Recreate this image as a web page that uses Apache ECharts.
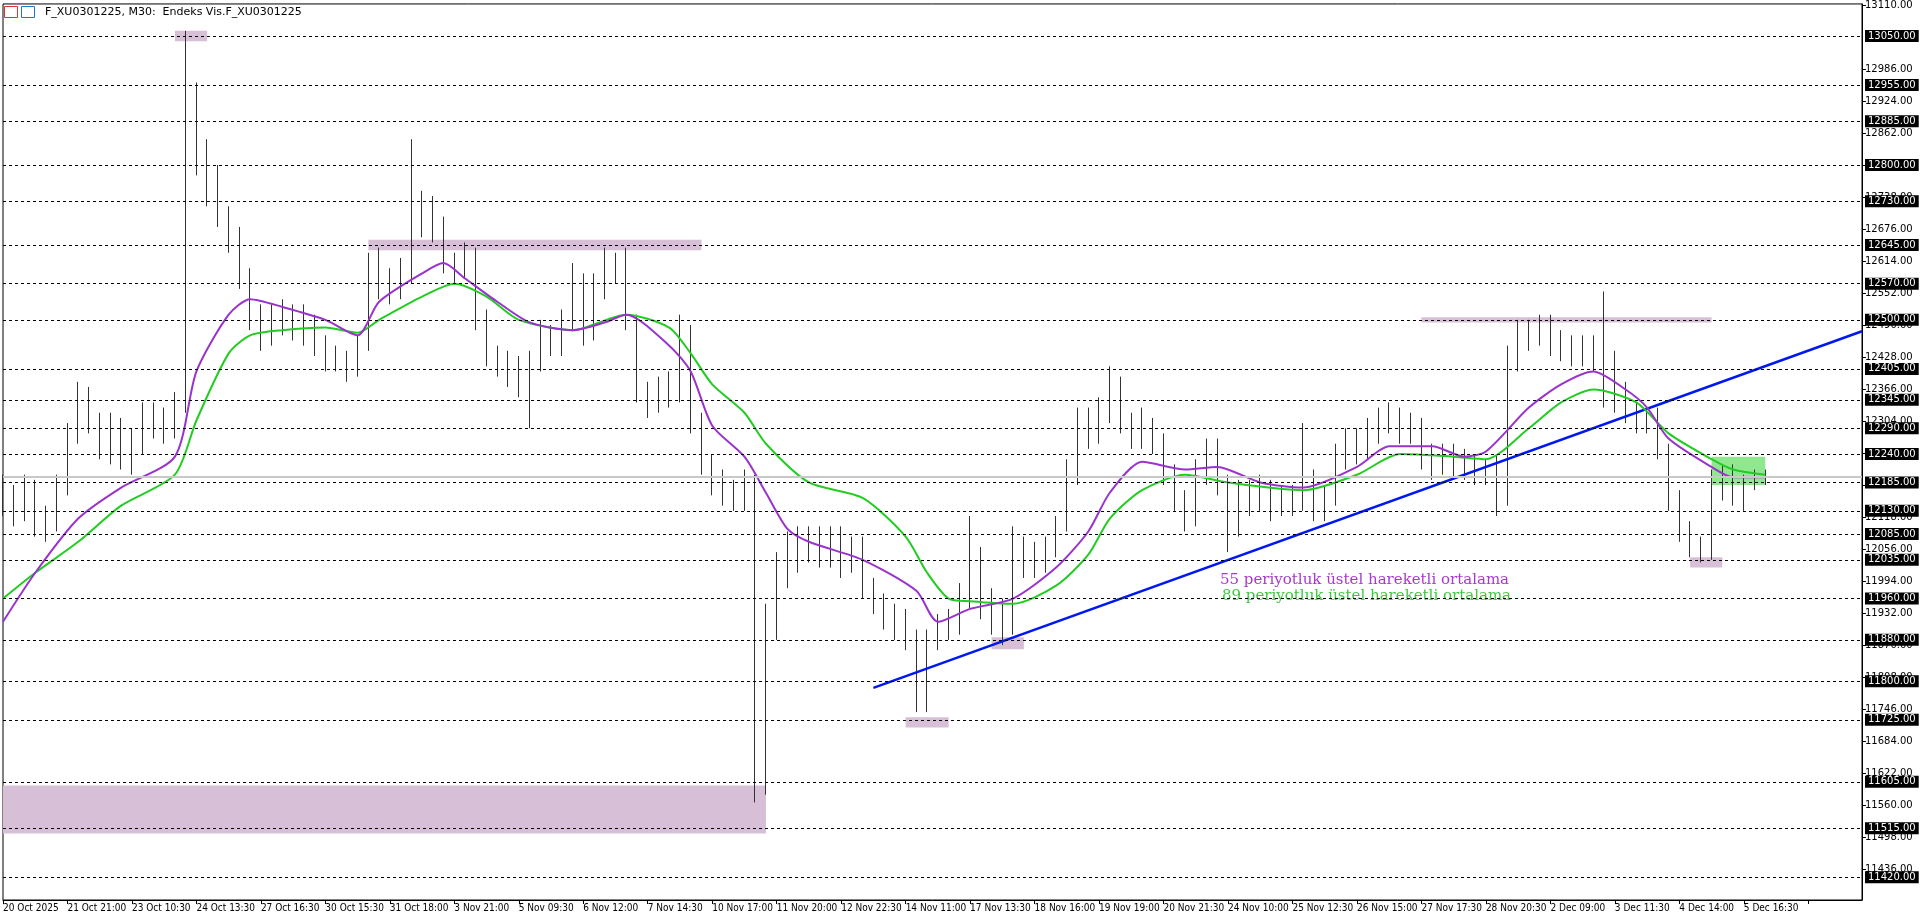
<!DOCTYPE html>
<html><head><meta charset="utf-8">
<script src="https://cdn.jsdelivr.net/npm/echarts@6/dist/echarts.min.js"></script>
<style>html,body{margin:0;padding:0;background:#fff}#c{width:1920px;height:923px}</style>
</head><body><div id="c"></div>
<script>
const timeLabels=['20 Oct 2025','21 Oct 21:00','23 Oct 10:30','24 Oct 13:30','27 Oct 16:30','30 Oct 15:30','31 Oct 18:00','3 Nov 21:00','5 Nov 09:30','6 Nov 12:00','7 Nov 14:30','10 Nov 17:00','11 Nov 20:00','12 Nov 22:30','14 Nov 11:00','17 Nov 13:30','18 Nov 16:00','19 Nov 19:00','20 Nov 21:30','24 Nov 10:00','25 Nov 12:30','26 Nov 15:00','27 Nov 17:30','28 Nov 20:30','2 Dec 09:00','3 Dec 11:30','4 Dec 14:00','5 Dec 16:30'];
// [open, close, low, high]
const bars=[
[12170,12150,12120,12200],[12150,12130,12100,12180],[12130,12170,12110,12200],[12170,12100,12080,12190],[12100,12110,12070,12140],[12110,12170,12090,12200],
[12170,12280,12160,12300],[12280,12350,12260,12380],[12350,12300,12280,12370],[12300,12250,12230,12320],[12250,12300,12220,12320],[12300,12230,12210,12310],
[12230,12250,12200,12290],[12250,12320,12240,12340],[12320,12300,12270,12340],[12300,12290,12260,12330],[12290,12330,12270,12360],[12330,12950,12320,13060],
[12950,12820,12780,12960],[12820,12780,12720,12850],[12780,12700,12680,12800],[12700,12660,12630,12720],[12660,12580,12560,12680],[12580,12500,12480,12600],
[12500,12470,12440,12530],[12470,12500,12450,12530],[12500,12510,12470,12540],[12510,12480,12460,12530],[12480,12500,12450,12530],[12500,12450,12430,12510],
[12450,12420,12400,12470],[12420,12430,12400,12450],[12430,12410,12380,12440],[12410,12450,12390,12470],[12450,12600,12440,12630],[12600,12570,12540,12640],
[12570,12550,12530,12600],[12550,12590,12540,12620],[12590,12700,12570,12850],[12700,12720,12660,12750],[12720,12680,12650,12740],[12680,12610,12590,12700],
[12610,12600,12570,12630],[12600,12620,12580,12650],[12620,12500,12480,12640],[12500,12430,12410,12520],[12430,12420,12390,12450],[12420,12400,12370,12440],
[12400,12380,12350,12430],[12380,12420,12290,12440],[12420,12470,12400,12500],[12470,12450,12430,12490],[12450,12500,12430,12520],[12500,12580,12480,12610],
[12580,12470,12450,12590],[12470,12560,12460,12590],[12560,12610,12540,12640],[12610,12600,12570,12630],[12600,12500,12480,12640],[12500,12360,12340,12510],
[12360,12340,12310,12380],[12340,12370,12320,12390],[12370,12350,12330,12400],[12350,12480,12340,12510],[12480,12300,12280,12490],[12300,12220,12200,12320],
[12220,12190,12160,12240],[12190,12170,12140,12210],[12170,12150,12130,12190],[12150,12190,12130,12210],[12190,11600,11565,12200],[11600,11900,11580,11950],
[11900,12000,11880,12050],[12000,12060,11980,12090],[12060,12040,12010,12100],[12040,12070,12030,12100],[12070,12050,12020,12100],[12050,12080,12020,12100],
[12080,12030,12000,12100],[12030,12060,12010,12080],[12060,11980,11960,12080],[11980,11950,11930,12000],[11950,11930,11900,11970],[11930,11920,11880,11950],
[11920,11880,11860,11940],[11880,11760,11740,11900],[11760,11880,11740,11900],[11880,11910,11860,11930],[11910,11900,11880,11940],[11900,11960,11890,11990],
[11960,12050,11940,12120],[12050,11950,11920,12060],[11950,11930,11890,11980],[11930,11900,11870,11960],[11900,12020,11890,12100],[12020,12050,12000,12080],
[12050,12030,12000,12070],[12030,12060,12010,12080],[12060,12100,12040,12120],[12100,12200,12090,12230],[12200,12300,12180,12330],[12300,12280,12250,12330],
[12280,12320,12260,12350],[12320,12370,12300,12410],[12370,12300,12280,12390],[12300,12280,12250,12320],[12280,12300,12250,12330],[12300,12260,12240,12310],
[12260,12200,12180,12280],[12200,12150,12130,12220],[12150,12110,12090,12170],[12110,12200,12100,12230],[12200,12250,12180,12270],[12250,12180,12160,12270],
[12180,12100,12050,12200],[12100,12160,12080,12190],[12160,12150,12120,12190],[12150,12170,12130,12200],[12170,12140,12110,12190],[12140,12160,12120,12180],
[12160,12150,12120,12180],[12150,12200,12130,12300],[12200,12140,12110,12210],[12140,12150,12110,12180],[12150,12230,12140,12260],[12230,12260,12210,12290],
[12260,12240,12220,12290],[12240,12280,12230,12310],[12280,12300,12260,12330],[12300,12310,12280,12340],[12310,12290,12260,12330],[12290,12300,12260,12320],
[12300,12230,12210,12310],[12230,12220,12190,12260],[12220,12240,12200,12260],[12240,12210,12190,12260],[12210,12230,12190,12250],[12230,12200,12180,12240],
[12200,12210,12180,12230],[12210,12150,12120,12240],[12150,12420,12140,12450],[12420,12480,12400,12500],[12480,12470,12440,12500],[12470,12490,12450,12510],
[12490,12460,12430,12510],[12460,12440,12420,12480],[12440,12450,12410,12470],[12450,12430,12410,12470],[12430,12450,12400,12470],[12450,12420,12330,12555],
[12420,12350,12320,12440],[12350,12320,12300,12380],[12320,12300,12280,12340],[12300,12310,12280,12330],[12310,12250,12230,12330],[12250,12150,12130,12260],
[12150,12090,12070,12170],[12090,12060,12040,12110],[12060,12050,12030,12080],[12050,12180,12035,12210],[12180,12200,12150,12220],[12200,12160,12140,12220],
[12160,12180,12130,12200],[12180,12200,12170,12210],[12200,12196,12180,12210]];
const ema55=[[0,11915],[3,12010],[7,12115],[11,12175],[16,12235],[18,12400],[21,12510],[23,12540],[26,12525],[30,12500],[33,12470],[35,12535],[39,12590],[41,12610],[43,12580],[46,12535],[49,12495],[53,12480],[56,12495],[58,12510],[62,12450],[64,12400],[66,12295],[69,12235],[71,12165],[73,12095],[75,12070],[80,12035],[85,11975],[87,11915],[90,11940],[94,11960],[98,12020],[101,12090],[103,12165],[106,12225],[110,12210],[113,12215],[117,12185],[121,12175],[126,12215],[129,12255],[133,12255],[136,12235],[138,12245],[142,12330],[145,12375],[148,12400],[151,12365],[153,12330],[155,12270],[159,12215],[161,12195],[164,12195]];
const ema89=[[0,11960],[3,12010],[7,12070],[11,12140],[16,12200],[18,12305],[21,12435],[23,12470],[26,12480],[30,12485],[33,12475],[35,12500],[39,12545],[42,12570],[45,12545],[48,12500],[53,12480],[58,12510],[62,12485],[64,12435],[66,12375],[69,12320],[71,12260],[75,12185],[80,12155],[84,12080],[86,12010],[88,11960],[90,11955],[94,11950],[98,11985],[101,12045],[103,12115],[106,12170],[110,12200],[114,12185],[121,12170],[126,12200],[130,12240],[135,12235],[138,12230],[142,12290],[145,12340],[148,12365],[152,12340],[155,12280],[159,12230],[161,12210],[164,12200]];
const trendLine=[[81,11787],[173,12478]];
const levels=[13050,12955,12885,12800,12730,12645,12570,12500,12405,12345,12290,12240,12185,12130,12085,12035,11960,11880,11800,11725,11605,11515,11420];
const tickValues=[11436,11498,11560,11622,11684,11746,11808,11870,11932,11994,12056,12118,12180,12242,12304,12366,12428,12490,12552,12614,12676,12738,12800,12862,12924,12986,13110];
const currentPrice=12196;
const zones=[[15.7,13060,19.2,13040],[33.8,12655,64.7,12635],[132,12505,158.5,12495],[156.8,12040,160.3,12020],[84.3,11730,88,11710],[91.7,11885,95,11862],[0.2,11598,71.2,11505]];
const greenZone=[158.5,12235,164.2,12180];

const N=174;
const cats=[];for(let i=0;i<N;i++){cats.push(i%6===0&&timeLabels[i/6]?timeLabels[i/6]:'');}
const chart=echarts.init(document.getElementById('c'));
const f='Tahoma, "DejaVu Sans", sans-serif';
chart.setOption({
 animation:false,
 grid:{left:0,right:58,top:2,bottom:23,show:true,borderColor:'#000',borderWidth:1},
 xAxis:{type:'category',data:cats,boundaryGap:false,
  axisLine:{lineStyle:{color:'#000'}},
  axisTick:{interval:5,length:4,lineStyle:{color:'#000'}},
  axisLabel:{interval:5,align:'left',fontSize:10,color:'#000',fontFamily:'"DejaVu Sans Condensed","Liberation Sans Narrow",sans-serif',margin:3,hideOverlap:false},
  splitLine:{show:false}},
 yAxis:{type:'value',position:'right',min:11376,max:13112,scale:true,
  axisLine:{show:true,lineStyle:{color:'#000'}},
  axisTick:{show:true,length:4,customValues:tickValues,lineStyle:{color:'#000'}},
  axisLabel:{customValues:tickValues,fontSize:10,color:'#000',fontFamily:f,formatter:v=>v.toFixed(2),margin:3},
  splitLine:{show:false}},
 graphic:[
  {type:'rect',left:4,top:6,shape:{width:13,height:11},style:{fill:'#fff',stroke:'#d33',lineWidth:1}},
  {type:'rect',left:21,top:6,shape:{width:13,height:11},style:{fill:'#fff',stroke:'#27c',lineWidth:1}},
  {type:'text',left:45,top:7,style:{text:'F_XU0301225, M30:  Endeks Vis.F_XU0301225',font:'11px '+f,fill:'#000'}},
  {type:'text',left:1220,top:573,style:{text:'55 periyotluk üstel hareketli ortalama',font:'15px "DejaVu Serif", serif',fill:'#a838d0'}},
  {type:'text',left:1222,top:589,style:{text:'89 periyotluk üstel hareketli ortalama',font:'15px "DejaVu Serif", serif',fill:'#3cc83c',shadowColor:'#ee0',shadowOffsetX:-1,shadowBlur:0}}
 ],
 series:[
  {type:'line',data:[],markArea:{silent:true,itemStyle:{color:'rgb(216,191,216)'},data:zones.map(z=>[{xAxis:z[0],yAxis:z[1]},{xAxis:z[2],yAxis:z[3]}]).concat([[{xAxis:greenZone[0],yAxis:greenZone[1],itemStyle:{color:'#8fe88f'}},{xAxis:greenZone[2],yAxis:greenZone[3]}]])},
   markLine:{silent:true,symbol:'none',data:levels.map(v=>({yAxis:v})).concat([{yAxis:currentPrice,lineStyle:{type:'solid',color:'#c8c8c8',width:2},label:{show:false}}]),
    lineStyle:{type:[3,3],color:'#000',width:1},
    label:{position:'end',formatter:p=>p.value.toFixed(2),backgroundColor:'#000',color:'#fff',fontSize:10,fontFamily:f,padding:[1,3],distance:3}}},
  {type:'candlestick',data:bars,barWidth:1,itemStyle:{color:'#000',color0:'#000',borderColor:'#333',borderColor0:'#333',borderWidth:1}},
  {type:'line',data:trendLine,symbol:'none',lineStyle:{color:'#0018f0',width:2.5}},
  {type:'line',data:ema89,symbol:'none',smooth:0.25,lineStyle:{color:'#22cc22',width:2}},
  {type:'line',data:ema55,symbol:'none',smooth:0.25,lineStyle:{color:'#9933cc',width:2}}
 ]
});
</script></body></html>
